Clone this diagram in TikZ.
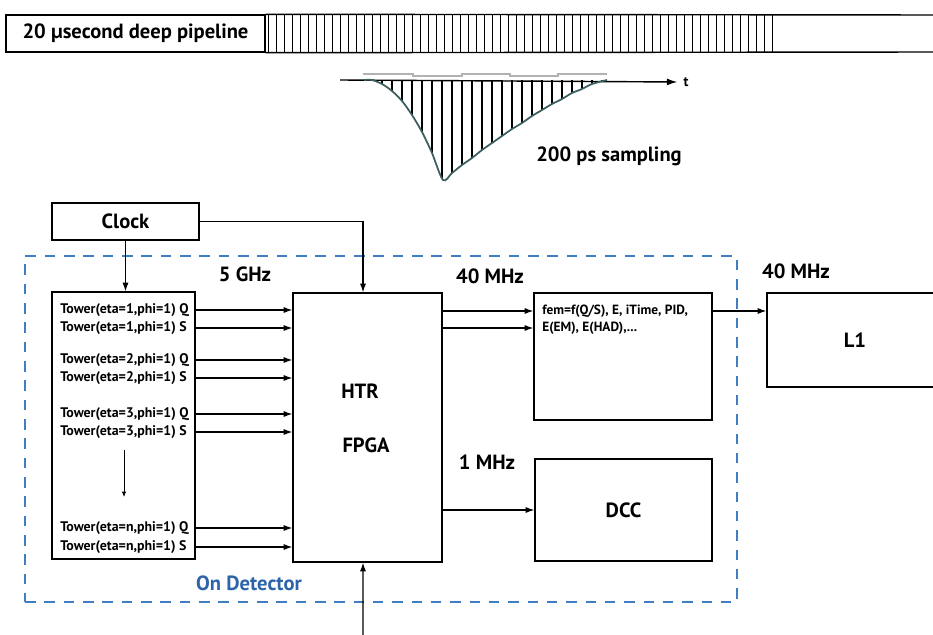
\documentclass[tikz,border=0pt]{standalone}
\usepackage{fontspec}
\setmainfont{PT Sans}
\usetikzlibrary{arrows.meta,positioning,calc}
\definecolor{detblue}{RGB}{65,125,195}
\definecolor{dettext}{RGB}{45,100,170}
\definecolor{pulse}{RGB}{60,95,95}

\begin{document}
\begin{tikzpicture}[
    x=0.02cm, y=-0.02cm,
    box/.style={draw, line width=0.8pt, inner sep=0pt},
    lbl/.style={font=\fontsize{11.7}{13}\selectfont\bfseries},
    small/.style={font=\fontsize{7.9}{9}\selectfont\bfseries, inner sep=0pt, anchor=west},
    arr/.style={-{Latex[length=5pt,width=3.5pt]}, line width=0.6pt},
    detbox/.style={draw=detblue, line width=1.1pt, dash pattern=on 6pt off 5pt, inner sep=0pt}
]
\useasboundingbox (0,0) rectangle (933,635);

\node[box, minimum width=5.18cm, minimum height=0.74cm, lbl] (pipe) at (135.5,33.5) {20 µsecond deep pipeline};
\draw[line width=0.8pt] (pipe.north east) -- (945,15);
\draw[line width=0.8pt] (pipe.south east) -- (945,52);
\foreach \i in {0,...,63}
    \draw[line width=0.5pt] (268+8*\i,15) -- (268+8*\i,52);

\draw[gray!60, line width=1.6pt] (363,74) -- (413,74) -- (413,76) -- (462,76) -- (462,74) -- (510,74)
    -- (510,76) -- (558,76) -- (558,74) -- (607,74);
\node[lbl, font=\fontsize{8}{9}\selectfont\bfseries] (t) at (686,82) {t};
\draw[-{Latex[length=6pt,width=4pt]}, line width=0.8pt] (340,80) -- (t.west);
\foreach \sx/\sd in {372/0,382/4,392/11,402/21,412/35,422/52,432/73,442/99,452/93,462/85,
    472/78,482/70,492/63,502/56,512/49,522/43,532/36,542/30,552/24,562/19,572/13,582/9,592/4,602/1}
    \draw[line width=0.6pt] (\sx,80) -- (\sx,{80+\sd});
\draw[pulse, line width=1pt] plot[smooth] coordinates {(364,80) (372,80) (382,84) (392,91) (402,101)
    (412,115) (422,132) (432,153) (443,180) (452,173) (462,165) (472,158) (482,150) (492,143)
    (502,136) (512,129) (522,123) (532,116) (542,110) (552,104) (562,99) (572,93) (582,89)
    (592,84) (607,80)};
\node[lbl] (samp) at (609,156) {200 ps sampling};

\node[detbox, minimum width=14.24cm, minimum height=6.92cm] (det) at (381,429) {};
\node[lbl, text=dettext] (ondet) at (249,583) {On Detector};

\node[box, minimum width=2.94cm, minimum height=0.74cm, lbl] (clock) at (125.5,221.5) {Clock};
\node[box, minimum width=2.86cm, minimum height=5.34cm] (tower) at (123.5,425.5) {};
\node[box, minimum width=2.98cm, minimum height=5.38cm] (htr) at (367.5,427.5) {};
\node[box, minimum width=3.56cm, minimum height=2.54cm] (fem) at (623,356.5) {};
\node[box, minimum width=3.54cm, minimum height=2.04cm, lbl] (dcc) at (623.5,510) {DCC};
\node[box, minimum width=3.52cm, minimum height=1.88cm, lbl] (l1) at (855,340) {L1};

\node[lbl] (htrtxt) at (360,391) {HTR};
\node[lbl] (fpga) at (366,445) {FPGA};

\node[lbl] (ghz) at (245,274) {5 GHz};
\node[lbl] (mhzin) at (490,276) {40 MHz};
\node[lbl] (mhzout) at (796,271) {40 MHz};
\node[lbl] (mhzdcc) at (487,462) {1 MHz};

\node[small] (q1) at (60,310) {Tower(eta=1,phi=1) Q};
\node[small] (s1) at (60,328) {Tower(eta=1,phi=1) S};
\node[small] (q2) at (60,360) {Tower(eta=2,phi=1) Q};
\node[small] (s2) at (60,378) {Tower(eta=2,phi=1) S};
\node[small] (q3) at (60,414) {Tower(eta=3,phi=1) Q};
\node[small] (s3) at (60,432) {Tower(eta=3,phi=1) S};
\node[small] (qn) at (60,528) {Tower(eta=n,phi=1) Q};
\node[small] (sn) at (60,547) {Tower(eta=n,phi=1) S};

\node[small, font=\fontsize{7.6}{8}\selectfont\bfseries] (fem1) at (542,311) {fem=f(Q/S), E, iTime, PID,};
\node[small, font=\fontsize{7.6}{8}\selectfont\bfseries] (fem2) at (542,328) {E(EM), E(HAD),...};

\foreach \t in {q1,s1,q2,s2,q3,s3,qn,sn}
    \draw[arr] (\t -| tower.east) -- (\t -| htr.west);

\coordinate (dtop) at (124,450);
\coordinate (dbot) at (124,497);
\draw[-{Latex[length=3pt,width=2.5pt]}, line width=0.5pt] (dtop) -- (dbot);

\draw[arr] (clock.south) -- (clock.south |- tower.north);
\draw[arr] (clock.east) -| ([xshift=-0.09cm]htr.north);
\coordinate (trig) at (363,640);
\draw[arr] (trig) -- ([xshift=-0.09cm]htr.south);

\draw[arr] (fem1 -| htr.east) -- (fem1 -| fem.west);
\draw[arr] (fem2 -| htr.east) -- (fem2 -| fem.west);
\draw[arr] (fem1 -| fem.east) -- (fem1 -| l1.west);
\draw[arr] (dcc -| htr.east) -- (dcc.west);
\end{tikzpicture}
\end{document}
